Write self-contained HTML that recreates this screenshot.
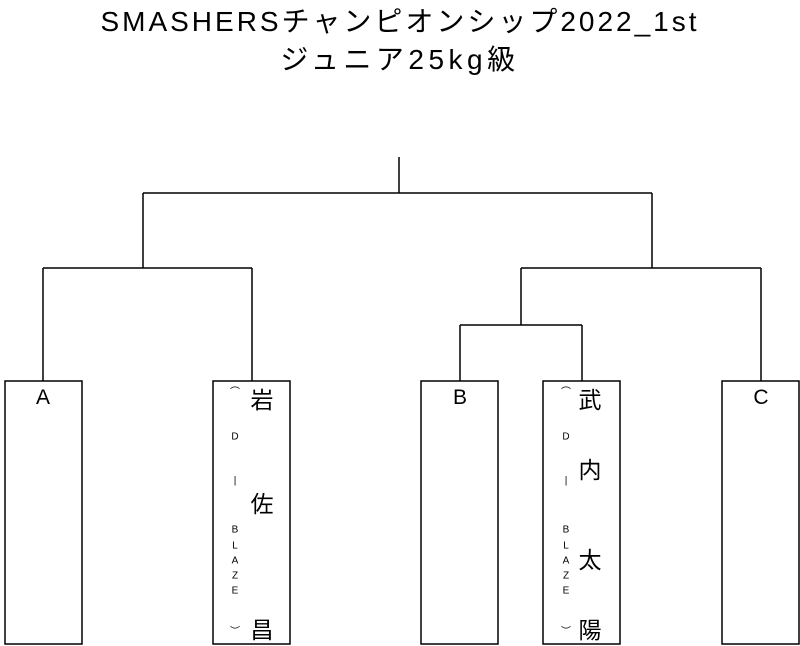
<!DOCTYPE html>
<html><head><meta charset="utf-8"><style>
body{margin:0;background:#fff;width:800px;height:646px;overflow:hidden;position:relative;font-family:"Liberation Sans","Noto Sans CJK JP",sans-serif}
.t{position:absolute;left:0;width:800px;text-align:center;font-size:28px;line-height:32px;color:#000;letter-spacing:3px}
.s{position:absolute;font-size:10px;color:#000;transform:translate(-50%,-50%)}
.n{position:absolute;font-size:23px;color:#000;transform:translate(-50%,-50%)}
</style></head><body>
<div class="t" style="top:6px">SMASHERSチャンピオンシップ2022_1st</div>
<div class="t" style="top:44px;letter-spacing:4.5px">ジュニア25kg級</div>
<svg width="800" height="646" style="position:absolute;left:0;top:0" fill="none" stroke="#000" stroke-width="1.5">
<path d="M399 157V193M143 193H652M143 193V268M652 193V268M43 268H252M43 268V381M252 268V381M521 268H761M521 268V325M761 268V381M460 325H582M460 325V381M582 325V381"/>
<rect x="5" y="381" width="77" height="263"/>
<rect x="213" y="381" width="77" height="263"/>
<rect x="421" y="381" width="77" height="263"/>
<rect x="543" y="381" width="77" height="263"/>
<rect x="722" y="381" width="77" height="263"/>
</svg>
<div class="n" style="left:43px;top:398px;font-size:21px">A</div>
<div class="n" style="left:460px;top:398px;font-size:21px">B</div>
<div class="n" style="left:761px;top:398px;font-size:21px">C</div>
<div class="n" style="left:262px;top:398px">岩</div>
<div class="n" style="left:262px;top:502px">佐</div>
<div class="n" style="left:262px;top:628px">昌</div>
<div class="n" style="left:590px;top:398px">武</div>
<div class="n" style="left:590px;top:468px">内</div>
<div class="n" style="left:590px;top:558px">太</div>
<div class="n" style="left:590px;top:628px">陽</div>
<div class="s" style="left:235px;top:384px">︵</div><div class="s" style="left:235px;top:437px">D</div><div class="s" style="left:235px;top:481px">|</div><div class="s" style="left:235px;top:530px">B</div><div class="s" style="left:235px;top:546px">L</div><div class="s" style="left:235px;top:561px">A</div><div class="s" style="left:235px;top:576px">Z</div><div class="s" style="left:235px;top:591px">E</div><div class="s" style="left:235px;top:630px">︶</div>
<div class="s" style="left:566px;top:384px">︵</div><div class="s" style="left:566px;top:437px">D</div><div class="s" style="left:566px;top:481px">|</div><div class="s" style="left:566px;top:530px">B</div><div class="s" style="left:566px;top:546px">L</div><div class="s" style="left:566px;top:561px">A</div><div class="s" style="left:566px;top:576px">Z</div><div class="s" style="left:566px;top:591px">E</div><div class="s" style="left:566px;top:630px">︶</div>
</body></html>
